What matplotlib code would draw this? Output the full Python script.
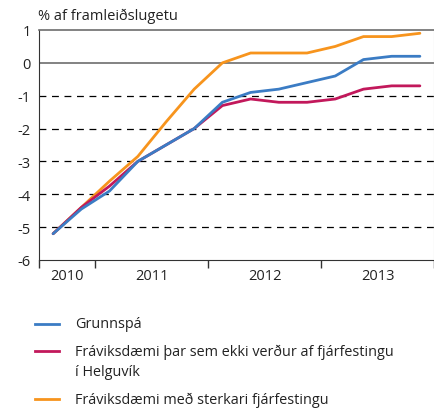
import numpy as np
import matplotlib
matplotlib.use("Agg")
import matplotlib.pyplot as plt
from matplotlib.lines import Line2D

plt.rcParams['font.family'] = ['Open Sans', 'DejaVu Sans']

# ársfjórðungar frá 2010F3 til 2013F4
quarters = ['2010F3', '2010F4',
            '2011F1', '2011F2', '2011F3', '2011F4',
            '2012F1', '2012F2', '2012F3', '2012F4',
            '2013F1', '2013F2', '2013F3', '2013F4']
years = ['2010', '2011', '2012', '2013']
year_quarters = [2, 4, 4, 4]

grunnspa = [-5.2, -4.45, -3.9, -3.0, -2.5, -2.0, -1.2, -0.9, -0.8, -0.6, -0.4, 0.1, 0.2, 0.2]
helguvik = [-5.2, -4.4, -3.75, -3.0, -2.5, -2.0, -1.3, -1.1, -1.2, -1.2, -1.1, -0.8, -0.7, -0.7]
sterkari = [-5.2, -4.4, -3.6, -2.85, -1.8, -0.8, 0.0, 0.3, 0.3, 0.3, 0.5, 0.8, 0.8, 0.9]

labels = ['Grunnspá',
          'Fráviksdæmi þar sem ekki verður af fjárfestingu\ní Helguvík',
          'Fráviksdæmi með sterkari fjárfestingu']
colors = ['#3b7cc4', '#c2185b', '#f7941d']

fig = plt.figure(figsize=(4.35, 4.1), dpi=100)
ax = fig.add_axes([39/435, 1 - 261/410, 395/435, 230/410])

x = np.arange(len(quarters)) + 0.5

# hnitanet
for yv in [-1, -2, -3, -4, -5]:
    ax.axhline(yv, color='black', lw=0.9, ls=(0, (5.5, 4.5)), zorder=1)
ax.axhline(0, color='#6d6d6d', lw=1.2, zorder=1)

series = [grunnspa, helguvik, sterkari]
# teiknað í þessari röð svo blá lína sé efst
for idx in [2, 1, 0]:
    ax.plot(x, series[idx], color=colors[idx], lw=2.0, zorder=3,
            solid_joinstyle='round', solid_capstyle='round')

ax.set_xlim(0, len(quarters))
ax.set_ylim(-6, 1)
ax.set_yticks(range(-6, 2))
ax.set_yticklabels([str(v) for v in range(-6, 2)])

bounds = np.concatenate([[0], np.cumsum(year_quarters)])
centers = (bounds[:-1] + bounds[1:]) / 2
ax.set_xticks(bounds)
ax.set_xticklabels([''] * len(bounds))
ax.set_xticks(centers, minor=True)
ax.set_xticklabels(years, minor=True)
ax.tick_params(axis='x', which='major', direction='out', length=6, width=1, color='#333333')
ax.tick_params(axis='x', which='minor', length=0, pad=6, labelsize=10.5, labelcolor='#222222')
ax.tick_params(axis='y', length=0, pad=6, labelsize=10.5, labelcolor='#222222')

ax.spines['left'].set_color('#333333')
ax.spines['bottom'].set_color('#333333')
ax.spines['top'].set_color('#6d6d6d')
ax.spines['top'].set_linewidth(1.2)
ax.spines['right'].set_color('#bdbdbd')

fig.text(38/435, 1 - 16/410, '% af framleiðslugetu', fontsize=10.5, color='#222222', va='center')

# skýringar
leg_y = [325, 352, 400]
for lab, col, yy in zip(labels, colors, leg_y):
    fy = 1 - yy/410
    fig.add_artist(Line2D([35/435, 59/435], [fy, fy], color=col, lw=2.0, transform=fig.transFigure))
    for k, part in enumerate(lab.split('\n')):
        fig.text(75/435, 1 - (yy + 21*k)/410, part, fontsize=10.4, color='#222222', va='center')

plt.savefig('out.png', dpi=100)
